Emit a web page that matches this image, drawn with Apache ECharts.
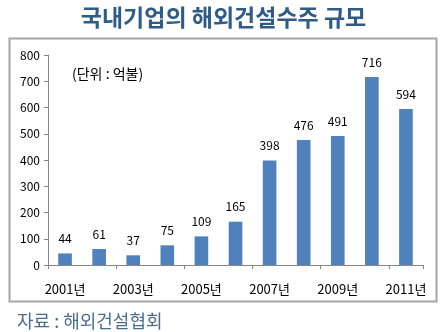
<!DOCTYPE html>
<html><head><meta charset="utf-8">
<script src="https://cdn.jsdelivr.net/npm/echarts@6/dist/echarts.min.js"></script>
<style>html,body{margin:0;padding:0;background:#fff}#c{width:447px;height:332px}</style>
</head><body><div id="c"></div>
<script>
const categories = ['2001년','2002년','2003년','2004년','2005년','2006년','2007년','2008년','2009년','2010년','2011년'];
const values = [44, 61, 37, 75, 109, 165, 398, 476, 491, 716, 594];
const titleText = '국내기업의 해외건설수주 규모';
const unitText = '(단위 : 억불)';
const sourceText = '자료 : 해외건설협회';
const FONT = '"Noto Sans CJK KR", "Liberation Sans", sans-serif';

const chart = echarts.init(document.getElementById('c'), null, {renderer: 'canvas'});
chart.setOption({
  animation: false,
  backgroundColor: '#fff',
  textStyle: {fontFamily: FONT},
  title: [
    {text: titleText, left: 'center', top: 1,
     textStyle: {fontFamily: FONT, fontSize: 23, fontWeight: 'bold', color: '#2f5b87'}},
    {text: unitText, left: 67, top: 62,
     textStyle: {fontFamily: FONT, fontSize: 14, fontWeight: 'normal', color: '#000'}},
    {text: sourceText, left: 12, top: 307,
     textStyle: {fontFamily: FONT, fontSize: 18, fontWeight: 'normal', color: '#4d6c8c'}}
  ],
  graphic: [
    {type: 'rect', shape: {x: 9.5, y: 38.5, width: 427, height: 263},
     style: {fill: null, stroke: '#a6a6a6', lineWidth: 2}, silent: true}
  ],
  grid: {left: 48, right: 24, top: 55, bottom: 67},
  xAxis: {
    type: 'category', data: categories,
    axisLine: {lineStyle: {color: '#868686'}},
    axisTick: {show: true, length: 4, lineStyle: {color: '#868686'}},
    axisLabel: {interval: 1, margin: 18, fontSize: 13, color: '#000', fontFamily: FONT}
  },
  yAxis: {
    type: 'value', min: 0, max: 800, interval: 100,
    axisLine: {show: true, lineStyle: {color: '#868686'}},
    axisTick: {show: true, length: 4, lineStyle: {color: '#868686'}},
    splitLine: {show: false},
    axisLabel: {margin: 8, fontSize: 12, color: '#000', fontFamily: FONT}
  },
  series: [{
    type: 'bar', data: values, barWidth: '40%',
    itemStyle: {color: '#4f81bd'},
    label: {show: true, position: 'top', distance: 9, fontSize: 12, color: '#000', fontFamily: FONT}
  }]
});
</script></body></html>
